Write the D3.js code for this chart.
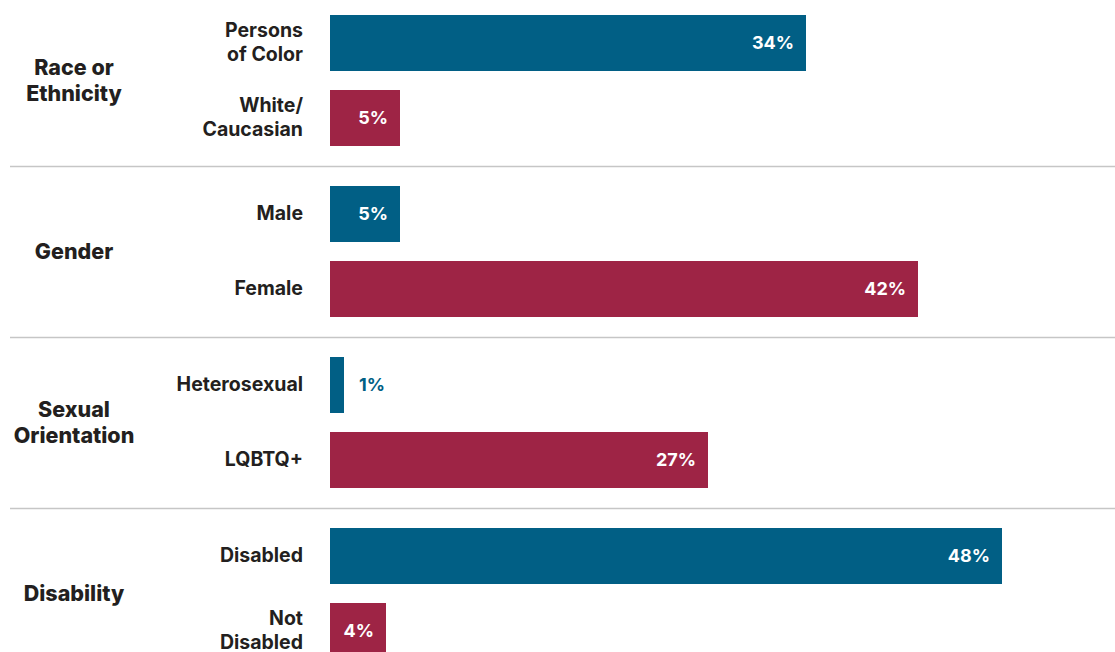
<!DOCTYPE html>
<html>
<head>
<meta charset="utf-8">
<script src="https://cdn.jsdelivr.net/npm/d3@7"></script>
<style>
  html, body { margin: 0; padding: 0; background: #ffffff; }
  svg { display: block; }
  text { font-family: Inter, "Open Sans", sans-serif; }
</style>
</head>
<body>
<svg id="chart" width="1115" height="652"></svg>
<script>
// Survey shares by demographic group
const groups = ["Race or Ethnicity", "Gender", "Sexual Orientation", "Disability"];
const groupLabelLines = [["Race or", "Ethnicity"], ["Gender"], ["Sexual", "Orientation"], ["Disability"]];
const rowLabels = [
  [["Persons", "of Color"], ["White/", "Caucasian"]],
  [["Male"], ["Female"]],
  [["Heterosexual"], ["LQBTQ+"]],
  [["Disabled"], ["Not", "Disabled"]]
];
const values = [
  [34, 5],
  [5, 42],
  [1, 27],
  [48, 4]
];
const seriesColors = ["#015f85", "#9e2445"];

const svg = d3.select("#chart");

const x = d3.scaleLinear().domain([0, 50]).range([330, 1030]);
const gy = d3.scaleBand().domain(groups).range([15, 659]).paddingInner(40 / 171).paddingOuter(0);
const iy = d3.scaleBand().domain([0, 1]).range([0, gy.bandwidth()]).paddingInner(19 / 75).paddingOuter(0);

// separators between groups
svg.append("g").selectAll("line")
  .data(groups.slice(1))
  .join("line")
  .attr("x1", 10).attr("x2", 1115)
  .attr("y1", d => gy(d) - 19.5).attr("y2", d => gy(d) - 19.5)
  .attr("stroke", "#c6c6c6").attr("stroke-width", 1.5);

const lineH = 23.5;

groups.forEach((g, gi) => {
  const gg = svg.append("g");
  const centerY = gy(g) + gy.bandwidth() / 2;

  // group heading
  const gl = groupLabelLines[gi];
  gg.append("text")
    .attr("x", 74).attr("text-anchor", "middle")
    .attr("font-size", 21.5).attr("font-weight", 800).attr("fill", "#231f20")
    .selectAll("tspan").data(gl).join("tspan")
    .attr("x", 74)
    .attr("y", (d, i) => centerY + (i - (gl.length - 1) / 2) * 25.5)
    .attr("dy", "0.36em")
    .text(d => d);

  values[gi].forEach((v, ri) => {
    const y0 = gy(g) + iy(ri);
    const cy = y0 + iy.bandwidth() / 2;

    gg.append("rect")
      .attr("x", x(0)).attr("y", y0)
      .attr("width", x(v) - x(0)).attr("height", iy.bandwidth())
      .attr("fill", seriesColors[ri]);

    // row label
    const rl = rowLabels[gi][ri];
    gg.append("text")
      .attr("text-anchor", "end")
      .attr("font-size", 19.5).attr("font-weight", 700).attr("fill", "#231f20")
      .selectAll("tspan").data(rl).join("tspan")
      .attr("x", 303)
      .attr("y", (d, i) => cy - 1 + (i - (rl.length - 1) / 2) * lineH)
      .attr("dy", "0.36em")
      .text(d => d);

    // value label
    const w = x(v) - x(0);
    const inside = w >= 40;
    gg.append("text")
      .attr("x", inside ? x(v) - 12 : x(v) + 15)
      .attr("y", cy).attr("dy", "0.36em")
      .attr("text-anchor", inside ? "end" : "start")
      .attr("font-size", 18).attr("font-weight", 700)
      .attr("fill", inside ? "#ffffff" : seriesColors[ri])
      .text(v + "%");
  });
});
</script>
</body>
</html>
